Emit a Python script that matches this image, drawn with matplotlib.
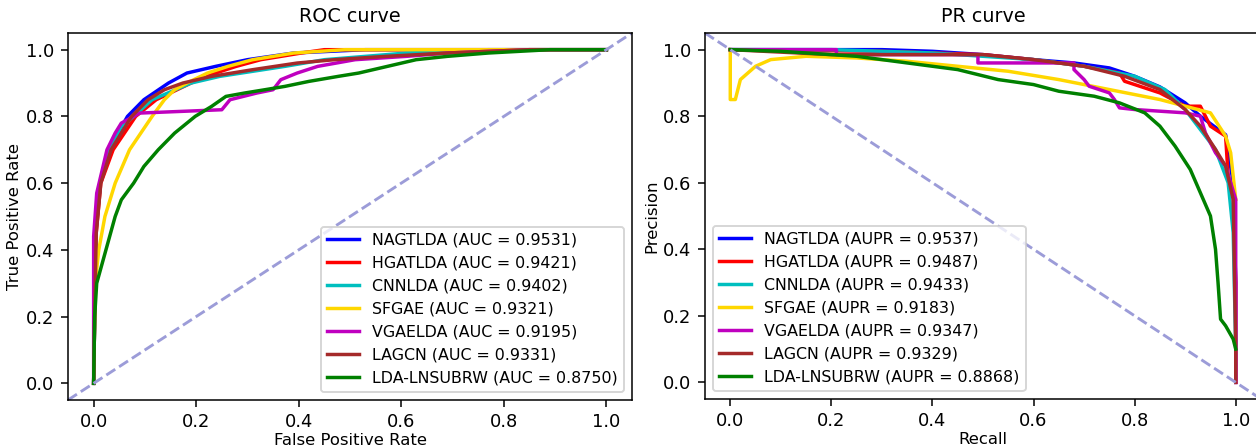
import matplotlib
matplotlib.use('Agg')
import matplotlib.pyplot as plt

# model names, colours and scores
models = ['NAGTLDA', 'HGATLDA', 'CNNLDA', 'SFGAE', 'VGAELDA', 'LAGCN', 'LDA-LNSUBRW']
colors = ['b', 'r', 'c', 'gold', 'm', 'brown', 'g']
auc = [0.9531, 0.9421, 0.9402, 0.9321, 0.9195, 0.9331, 0.8750]
aupr = [0.9537, 0.9487, 0.9433, 0.9183, 0.9347, 0.9329, 0.8868]

# ROC curves (fpr, tpr)
roc_fpr = {
    'NAGTLDA': [0, 0.002, 0.004, 0.013, 0.029, 0.066, 0.098, 0.146, 0.182, 0.238, 0.30, 0.39, 0.53, 1.0],
    'HGATLDA': [0, 0.002, 0.005, 0.014, 0.038, 0.082, 0.122, 0.19, 0.238, 0.278, 0.326, 0.405, 0.45, 1.0],
    'CNNLDA': [0, 0.002, 0.004, 0.013, 0.03, 0.054, 0.078, 0.114, 0.19, 0.246, 0.373, 0.45, 0.61, 0.77, 1.0],
    'SFGAE': [0, 0.003, 0.01, 0.022, 0.042, 0.07, 0.114, 0.138, 0.158, 0.182, 0.222, 0.262, 0.31, 0.39, 0.49, 1.0],
    'VGAELDA': [0, 0.0, 0.006, 0.026, 0.042, 0.054, 0.09, 0.25, 0.266, 0.318, 0.35, 0.365, 0.397, 0.437, 0.51, 0.61, 0.69, 0.85, 1.0],
    'LAGCN': [0, 0.002, 0.005, 0.014, 0.034, 0.074, 0.106, 0.138, 0.174, 0.23, 0.31, 0.397, 0.47, 0.57, 0.69, 0.85, 1.0],
    'LDA-LNSUBRW': [0, 0.002, 0.006, 0.024, 0.042, 0.054, 0.078, 0.098, 0.126, 0.158, 0.198, 0.23, 0.258, 0.294,
                    0.334, 0.373, 0.42, 0.477, 0.517, 0.573, 0.629, 0.69, 0.77, 0.89, 1.0],
}
roc_tpr = {
    'NAGTLDA': [0, 0.2, 0.45, 0.6, 0.7, 0.8, 0.85, 0.9, 0.93, 0.95, 0.97, 0.99, 1.0, 1.0],
    'HGATLDA': [0, 0.2, 0.45, 0.6, 0.7, 0.8, 0.85, 0.9, 0.93, 0.95, 0.97, 0.99, 1.0, 1.0],
    'CNNLDA': [0, 0.2, 0.45, 0.6, 0.7, 0.77, 0.8, 0.85, 0.9, 0.92, 0.95, 0.97, 0.99, 1.0, 1.0],
    'SFGAE': [0, 0.3, 0.4, 0.5, 0.6, 0.7, 0.8, 0.85, 0.88, 0.9, 0.93, 0.95, 0.97, 0.99, 1.0, 1.0],
    'VGAELDA': [0, 0.44, 0.57, 0.7, 0.75, 0.78, 0.81, 0.82, 0.85, 0.87, 0.88, 0.91, 0.93, 0.95, 0.97, 0.98, 0.99, 1.0, 1.0],
    'LAGCN': [0, 0.2, 0.45, 0.6, 0.7, 0.8, 0.85, 0.88, 0.9, 0.92, 0.94, 0.96, 0.97, 0.98, 0.99, 1.0, 1.0],
    'LDA-LNSUBRW': [0, 0.2, 0.3, 0.4, 0.5, 0.55, 0.6, 0.65, 0.7, 0.75, 0.8, 0.83, 0.86, 0.87,
                    0.88, 0.89, 0.905, 0.92, 0.93, 0.95, 0.97, 0.98, 0.99, 1.0, 1.0],
}

# PR curves (recall, precision)
pr_rec = {
    'NAGTLDA': [0, 0.3, 0.4, 0.5, 0.6, 0.68, 0.75, 0.8, 0.85, 0.9, 0.93, 0.98, 0.995, 1.0, 1.0],
    'HGATLDA': [0, 0.3, 0.5, 0.6, 0.7, 0.77, 0.78, 0.85, 0.9, 0.93, 0.95, 0.98, 0.985, 0.995, 1.0, 1.0],
    'CNNLDA': [0, 0.2, 0.4, 0.6, 0.7, 0.8, 0.86, 0.9, 0.93, 0.96, 0.985, 0.995, 1.0],
    'SFGAE': [0, 0.0, 0.01, 0.02, 0.05, 0.08, 0.15, 0.25, 0.35, 0.45, 0.55, 0.65, 0.75, 0.85, 0.9, 0.95, 0.98,
              0.99, 1.0],
    'VGAELDA': [0, 0.21, 0.21, 0.49, 0.49, 0.68, 0.68, 0.70, 0.71, 0.75, 0.76, 0.77, 0.8, 0.9, 0.93, 0.94, 0.96,
                0.98, 0.99, 1.0, 1.0],
    'LAGCN': [0, 0.2, 0.5, 0.6, 0.7, 0.78, 0.85, 0.9, 0.93, 0.96, 0.98, 0.995, 1.0, 1.0],
    'LDA-LNSUBRW': [0, 0.1, 0.25, 0.35, 0.45, 0.53, 0.6, 0.65, 0.72, 0.77, 0.82, 0.85, 0.88, 0.91, 0.93, 0.95,
                    0.96, 0.965, 0.97, 0.98, 0.995, 1.0],
}
pr_prec = {
    'NAGTLDA': [1.0, 1.0, 0.995, 0.985, 0.97, 0.96, 0.945, 0.92, 0.888, 0.84, 0.80, 0.744, 0.6, 0.3, 0.0],
    'HGATLDA': [1.0, 0.995, 0.985, 0.97, 0.95, 0.93, 0.905, 0.87, 0.83, 0.83, 0.77, 0.74, 0.62, 0.56, 0.3, 0.0],
    'CNNLDA': [1.0, 1.0, 0.99, 0.97, 0.95, 0.92, 0.88, 0.82, 0.76, 0.70, 0.60, 0.45, 0.1],
    'SFGAE': [1.0, 0.85, 0.85, 0.91, 0.95, 0.97, 0.98, 0.975, 0.965, 0.95, 0.935, 0.91, 0.88, 0.85, 0.83, 0.81,
              0.74, 0.69, 0.55],
    'VGAELDA': [1.0, 1.0, 0.985, 0.985, 0.96, 0.96, 0.94, 0.91, 0.89, 0.87, 0.85, 0.825, 0.82, 0.81, 0.80, 0.75,
                0.69, 0.65, 0.60, 0.55, 0.0],
    'LAGCN': [1.0, 0.985, 0.985, 0.97, 0.95, 0.92, 0.88, 0.82, 0.77, 0.70, 0.65, 0.55, 0.1, 0.0],
    'LDA-LNSUBRW': [1.0, 0.995, 0.98, 0.96, 0.94, 0.91, 0.895, 0.875, 0.86, 0.84, 0.81, 0.77, 0.71, 0.64, 0.57,
                    0.5, 0.4, 0.3, 0.19, 0.17, 0.13, 0.1],
}

plt.rcParams['xtick.labelsize'] = 9.3
plt.rcParams['ytick.labelsize'] = 9.3
plt.rcParams['axes.labelsize'] = 8.6
plt.rcParams['axes.titlesize'] = 10
plt.rcParams['legend.fontsize'] = 8.3

fig = plt.figure(figsize=(1256 / 138, 446 / 138), dpi=138)
ax1 = fig.add_axes([68 / 1256, 46 / 446, 564 / 1256, 367 / 446])
ax2 = fig.add_axes([705 / 1256, 47 / 446, 556 / 1256, 366 / 446])

diag_color = '#9c9cd8'

# ROC
for name, c, a in zip(models, colors, auc):
    ax1.plot(roc_fpr[name], roc_tpr[name], color=c, lw=1.8, label=f'{name} (AUC = {a:.4f})')
ax1.plot([0, 1], [0, 1], transform=ax1.transAxes, color=diag_color, lw=1.5, ls='--')
ax1.set_xlim(-0.05, 1.05)
ax1.set_ylim(-0.05, 1.05)
ax1.set_xlabel('False Positive Rate', labelpad=1)
ax1.set_ylabel('True Positive Rate', labelpad=2)
ax1.set_title('ROC curve')
ax1.legend(loc='lower right')

# PR
for name, c, a in zip(models, colors, aupr):
    ax2.plot(pr_rec[name], pr_prec[name], color=c, lw=1.8, label=f'{name} (AUPR = {a:.4f})')
ax2.plot([0, 1], [1, 0], transform=ax2.transAxes, color=diag_color, lw=1.5, ls='--')
ax2.set_xlim(-0.05, 1.05)
ax2.set_ylim(-0.05, 1.05)
ax2.set_xlabel('Recall', labelpad=1)
ax2.set_ylabel('Precision', labelpad=2)
ax2.set_title('PR curve')
ax2.legend(loc='lower left')

fig.savefig('out.png', dpi=138)
